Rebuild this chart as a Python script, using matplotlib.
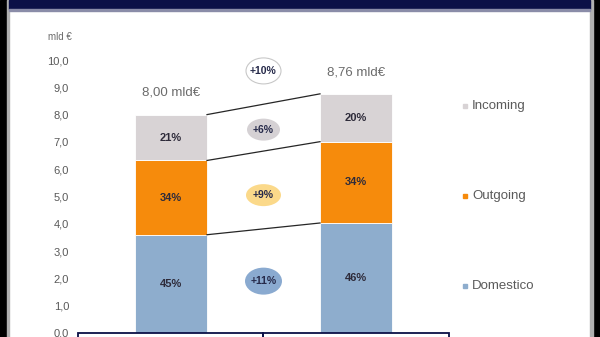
import numpy as np
import matplotlib.pyplot as plt
from matplotlib.patches import Ellipse, Rectangle

plt.rcParams['font.family'] = ['Liberation Sans', 'DejaVu Sans']

# data
years = [0, 1]
totals = [8.00, 8.76]
total_labels = ["8,00 mld€", "8,76 mld€"]
series = ["Domestico", "Outgoing", "Incoming"]
shares = {
    "Domestico": [45, 46],
    "Outgoing": [34, 34],
    "Incoming": [21, 20],
}
growth = ["+11%", "+9%", "+6%", "+10%"]
yticks = [0, 1, 2, 3, 4, 5, 6, 7, 8, 9, 10]

colors = {"Domestico": "#8eadcd", "Outgoing": "#f68b0c", "Incoming": "#d8d3d5"}
ell_colors = ["#8aaad0", "#fbd98a", "#d5d1d4", "#ffffff"]
navy = "#0b1047"

W, H = 600, 337
fig = plt.figure(figsize=(6, 3.37), dpi=100)
fig.patch.set_facecolor("white")

# axes: left edge at px 78, right at px 590, y=0 at px 333, 10 units = 273 px
px_unit_y = 27.3
ax_bottom = (H - 333) / H
ax_h = 12 * px_unit_y / H
ax = fig.add_axes([78 / W, ax_bottom, (590 - 78) / W, ax_h])
px_unit_x = 185.0
x0 = -(171 - 78) / px_unit_x
ax.set_xlim(x0, x0 + (590 - 78) / px_unit_x)
ax.set_ylim(0, 12)
for s in ax.spines.values():
    s.set_visible(False)
ax.set_xticks([])
ax.set_yticks(yticks)
ax.set_yticklabels([f"{v:.1f}".replace(".", ",") for v in yticks],
                   fontsize=8, color="#595959")
ax.tick_params(axis="y", length=0, pad=6.5)

bw = 72 / px_unit_x
bottoms = np.zeros(2)
tops = {}
for name in series:
    vals = np.array(totals) * np.array(shares[name]) / 100.0
    ax.bar(years, vals, bottom=bottoms, width=bw, color=colors[name],
           edgecolor="white", linewidth=0.6, zorder=2)
    for i in years:
        ax.text(i, bottoms[i] + vals[i] / 2, f"{shares[name][i]}%",
                ha="center", va="center", fontsize=8, fontweight="bold",
                color="#2e2b3a", zorder=3)
    bottoms = bottoms + vals
    tops[name] = bottoms.copy()

# connector lines between bars
for name in series:
    ax.plot([bw / 2, 1 - bw / 2], tops[name], color="#262626", lw=0.9, zorder=3)

# total labels
for i in years:
    ax.text(i, totals[i] + 0.8, total_labels[i], ha="center", va="center",
            fontsize=9.5, color="#6b6b6b")

# growth ellipses
ell_y = [1.9, 5.05, 7.45, 9.6]
ell_w = [37, 35, 33, 35]
ell_h = [27, 22, 22, 26]
for k, txt in enumerate(growth):
    e = Ellipse((0.5, ell_y[k]), ell_w[k] / px_unit_x, ell_h[k] / px_unit_y,
                facecolor=ell_colors[k],
                edgecolor="#c8c8c8" if k == 3 else "none", lw=0.8, zorder=3)
    ax.add_patch(e)
    ax.text(0.5, ell_y[k], txt, ha="center", va="center", fontsize=7.5,
            fontweight="bold", color="#262a4a", zorder=4)

# legend
leg_y = [286, 196, 106]
for name, py in zip(series, leg_y):
    fig.patches.append(Rectangle((463 / W, 1 - (py + 2) / H), 4.5 / W, 4.5 / H,
                                 transform=fig.transFigure, color=colors[name]))
    fig.text(472 / W, 1 - py / H, name, fontsize=9.5, color="#5a5a5a",
             ha="left", va="center")

fig.text(60 / W, 1 - 37 / H, "mld €", fontsize=7, color="#6b6b6b",
         ha="center", va="center")

# frame decorations
fig.patches.append(Rectangle((0, 0), 7 / W, 1, transform=fig.transFigure,
                             color="black"))
fig.patches.append(Rectangle((7 / W, 0), 2 / W, 1, transform=fig.transFigure,
                             color="#b0b0b0"))
fig.patches.append(Rectangle((593 / W, 0), 7 / W, 1, transform=fig.transFigure,
                             color="black"))
fig.patches.append(Rectangle((590 / W, 0), 3 / W, 1, transform=fig.transFigure,
                             color="#b0b0b0"))
fig.patches.append(Rectangle((9 / W, 1 - 9 / H), 581 / W, 9 / H,
                             transform=fig.transFigure, color=navy))
fig.patches.append(Rectangle((9 / W, 1 - 10.5 / H), 581 / W, 1.5 / H,
                             transform=fig.transFigure, color="#8a8ca8"))

# table boxes at the bottom
for xl, xr in [(78, 263), (263, 449)]:
    fig.patches.append(Rectangle((xl / W, -0.05), (xr - xl) / W, 0.05 + 4 / H,
                                 transform=fig.transFigure, facecolor="none",
                                 edgecolor=navy, lw=1.3))

fig.savefig("out.png", dpi=100)
